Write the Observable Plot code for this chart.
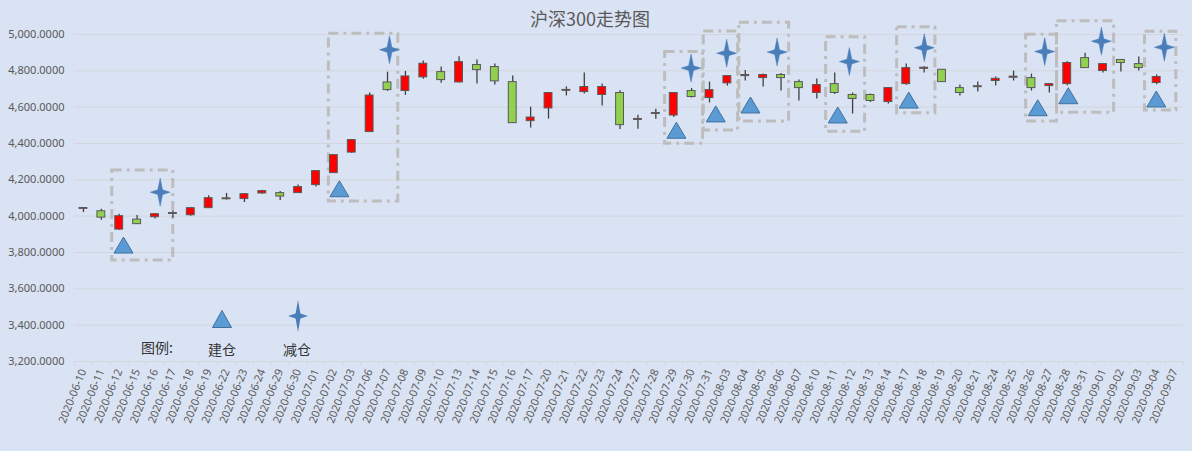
<!DOCTYPE html>
<html><head><meta charset="utf-8">
<script src="https://cdn.jsdelivr.net/npm/d3@7"></script>
<script src="https://cdn.jsdelivr.net/npm/@observablehq/plot@0.6"></script>
<style>
html,body{margin:0;padding:0;background:#DAE3F3;}
#wrap{position:relative;width:1192px;height:451px;overflow:hidden;font-family:'Noto Sans CJK SC','Noto Sans',sans-serif;}
#chart{position:absolute;left:0;top:0;}
#title{position:absolute;left:0;top:7px;width:1180px;text-align:center;font-size:18px;line-height:22px;color:#595959;}
.lg{position:absolute;font-size:14px;line-height:16px;color:#333;white-space:nowrap;}
.lgs{position:absolute;overflow:visible;}
</style></head><body>
<div id="wrap">
  <div id="chart"></div>
  <div id="title">沪深300走势图</div>
  <div class="lg" style="left:141px;top:339px">图例:</div>
  <div class="lg" style="left:208px;top:341px">建仓</div>
  <div class="lg" style="left:283px;top:341px">减仓</div>
  <svg class="lgs" style="left:212px;top:310px" width="20" height="18"><polygon points="10,0.5 19.5,17.5 0.5,17.5" fill="#5B9BD5" stroke="#41719C" stroke-width="1"/></svg>
  <svg class="lgs" style="left:288px;top:300px" width="20" height="32"><polygon points="10,0 12.4,13.6 20,16 12.4,18.4 10,32 7.6,18.4 0,16 7.6,13.6" fill="#4A7EBB"/></svg>
</div>
<script>
const dates = ["2020-06-10","2020-06-11","2020-06-12","2020-06-15","2020-06-16","2020-06-17","2020-06-18","2020-06-19","2020-06-22","2020-06-23","2020-06-24","2020-06-29","2020-06-30","2020-07-01","2020-07-02","2020-07-03","2020-07-06","2020-07-07","2020-07-08","2020-07-09","2020-07-10","2020-07-13","2020-07-14","2020-07-15","2020-07-16","2020-07-17","2020-07-20","2020-07-21","2020-07-22","2020-07-23","2020-07-24","2020-07-27","2020-07-28","2020-07-29","2020-07-30","2020-07-31","2020-08-03","2020-08-04","2020-08-05","2020-08-06","2020-08-07","2020-08-10","2020-08-11","2020-08-12","2020-08-13","2020-08-14","2020-08-17","2020-08-18","2020-08-19","2020-08-20","2020-08-21","2020-08-24","2020-08-25","2020-08-26","2020-08-27","2020-08-28","2020-08-31","2020-09-01","2020-09-02","2020-09-03","2020-09-04","2020-09-07"];
const open  = [4040,4027,3926,3981,3994,4012,4005,4044,4093,4094,4125,4127,4127,4171,4237,4350,4463,4736,4689,4764,4793,4736,4832,4821,4738,4523,4593,4690,4683,4667,4678,4530,4563,4554,4689,4650,4731,4771,4760,4777,4738,4678,4727,4667,4667,4628,4727,4811,4806,4705,4710,4744,4762,4760,4716,4727,4870,4799,4860,4837,4733,null];
const high  = [4046,4038,4011,4003,4013,4027,4047,4112,4125,4123,4142,4136,4172,4250,4338,4421,4678,4793,4797,4854,4821,4877,4860,4837,4771,4600,4680,4712,4788,4727,4690,4556,4589,4680,4703,4738,4773,4802,4782,4786,4749,4755,4788,4678,4672,4707,4837,4823,4808,4722,4738,4766,4799,4782,4729,4850,4897,4839,4862,4876,4777,null];
const low   = [4020,3978,3923,3955,3985,3990,4000,4042,4089,4075,4120,4086,4125,4160,4235,4345,4460,4687,4665,4753,4731,4735,4727,4722,4510,4485,4534,4662,4672,4606,4477,4479,4534,4543,4650,4623,4716,4744,4711,4689,4634,4645,4670,4562,4626,4617,4720,4788,4736,4661,4683,4716,4744,4689,4678,4718,4813,4788,4793,4799,4723,null];
const close = [4045,3992,4000,3956,4011,4017,4044,4099,4098,4121,4138,4108,4160,4248,4336,4419,4664,4694,4769,4839,4749,4848,4804,4742,4512,4543,4678,4695,4711,4711,4501,4535,4568,4678,4656,4694,4771,4777,4777,4760,4705,4722,4678,4645,4634,4705,4815,4817,4738,4678,4715,4756,4768,4705,4727,4843,4815,4837,4843,4815,4766,null];

// 建仓 markers (position in day-index units, price level)
const buyAt  = [2.24,14.31,33.15,35.35,37.29,42.17,46.14,53.35,55.06,59.98];
const buyVal = [3841,4151,4473,4563,4612,4557,4639,4597,4663,4645];
// 减仓 markers
const sellAt  = [4.29,17.11,33.97,35.96,38.78,42.82,47.01,53.74,56.91,60.43];
const sellVal = [4132,4916,4815,4897,4903,4851,4927,4906,4963,4930];
// dashed highlight boxes
const boxFrom = [1.61,13.72,32.52,34.68,36.67,41.52,45.49,52.70,54.43,59.35];
const boxTo   = [5.02,17.60,34.64,36.60,39.45,43.70,47.63,54.43,57.62,61.10];
const boxLow  = [3756,4081,4398,4472,4521,4464,4567,4521,4569,4582];
const boxHigh = [4251,5004,4903,5017,5064,4985,5040,4998,5073,5015];

const yTicks = [3200,3400,3600,3800,4000,4200,4400,4600,4800,5000];

const rows = dates.map((d, i) => ({i, date: d, open: open[i], high: high[i], low: low[i], close: close[i]}))
  .filter(d => d.open != null);
const up = rows.filter(d => d.close > d.open);
const down = rows.filter(d => d.close <= d.open);
const buys = buyAt.map((x, k) => ({x, y: buyVal[k]}));
const sells = sellAt.map((x, k) => ({x, y: sellVal[k]}));
const boxes = boxFrom.map((x1, k) => ({x1, x2: boxTo[k], y1: boxLow[k], y2: boxHigh[k]}));

const triSymbol = {draw(ctx) { ctx.moveTo(0, -8); ctx.lineTo(9.5, 8); ctx.lineTo(-9.5, 8); ctx.closePath(); }};
const starSymbol = {draw(ctx) {
  const a = 14, b = 10, c = 2.4;
  ctx.moveTo(0, -a); ctx.lineTo(c, -c); ctx.lineTo(b, 0); ctx.lineTo(c, c);
  ctx.lineTo(0, a); ctx.lineTo(-c, c); ctx.lineTo(-b, 0); ctx.lineTo(-c, -c); ctx.closePath();
}};

const half = 0.22;
const chart = Plot.plot({
  width: 1192, height: 451,
  marginLeft: 74, marginRight: 9, marginTop: 34, marginBottom: 90,
  x: {type: "linear", domain: [-0.5, dates.length - 0.5], axis: null},
  y: {domain: [3200, 5000], axis: null},
  style: {background: "transparent", color: "#595959", fontFamily: "'Noto Sans','Noto Sans CJK SC',sans-serif", fontSize: "11px", overflow: "visible"},
  marks: [
    Plot.gridY(yTicks, {stroke: "#D3D6DC", strokeOpacity: 1, strokeWidth: 1}),
    Plot.axisY(yTicks, {tickSize: 0, tickPadding: 10, tickFormat: d3.format(",.4f"), fontSize: 11}),
    Plot.axisX(d3.range(dates.length + 1).map(v => v - 0.5), {tickSize: 4, stroke: "#D3D6DC", tickFormat: () => ""}),
    Plot.axisX(d3.range(dates.length), {tickSize: 0, tickPadding: 8, tickRotate: -68, tickFormat: i => dates[i], fontSize: 11}),
    Plot.rect(boxes, {x1: "x1", x2: "x2", y1: "y1", y2: "y2", fill: "none", stroke: "#BDBDBD", strokeWidth: 3, strokeDasharray: "10,5,3,5"}),
    Plot.ruleX(rows, {x: "i", y1: "low", y2: "high", stroke: "#404040", strokeWidth: 1.3}),
    Plot.rect(up, {x1: d => d.i - half, x2: d => d.i + half, y1: "open", y2: "close", fill: "#FF0000", stroke: "#595959", strokeWidth: 1}),
    Plot.rect(down, {x1: d => d.i - half, x2: d => d.i + half, y1: "open", y2: "close", fill: "#92D050", stroke: "#595959", strokeWidth: 1}),
    Plot.dot(buys, {x: "x", y: "y", r: 8, symbol: triSymbol, fill: "#5B9BD5", stroke: "#41719C", strokeWidth: 1}),
    Plot.dot(sells, {x: "x", y: "y", r: 8, symbol: starSymbol, fill: "#4A7EBB", stroke: "#4A7EBB", strokeWidth: 0.5})
  ]
});
document.getElementById("chart").appendChild(chart);
</script>
</body></html>
